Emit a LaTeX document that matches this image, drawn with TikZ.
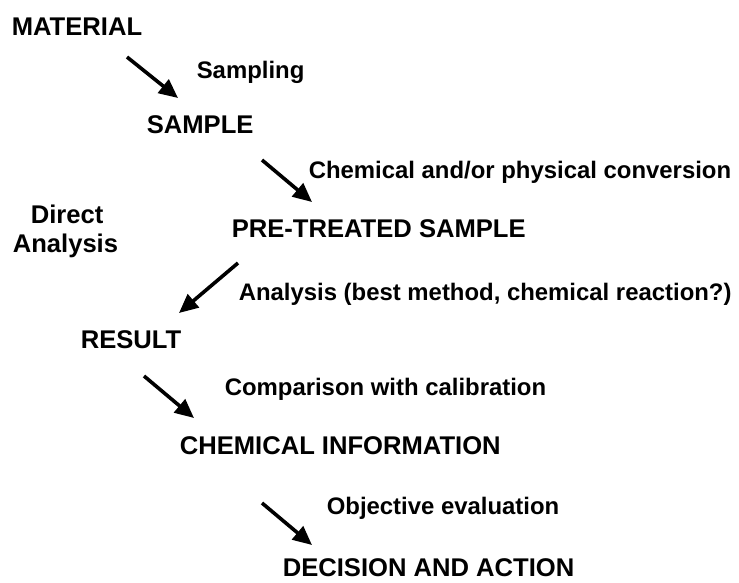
\documentclass[tikz,border=0pt]{standalone}
\usepackage{fontspec}
\setmainfont{Liberation Sans}
\usetikzlibrary{arrows.meta}

\begin{document}
\begin{tikzpicture}[x=1pt, y=-1pt, >={Triangle[length=19pt,width=17pt]}, line width=3.6pt,
  stage/.style={anchor=base west, inner sep=0pt, font=\fontsize{25.6}{30}\selectfont\bfseries},
  lbl/.style={anchor=base west, inner sep=0pt, font=\fontsize{23.9}{28}\selectfont\bfseries}
]
\useasboundingbox (0,0) rectangle (739,582);

% Stages
\node[stage] (material) at (10,35) {MATERIAL};
\node[stage] (sample) at (145,133) {SAMPLE};
\node[stage] (pretreated) at (230,237) {PRE-TREATED SAMPLE};
\node[stage] (result) at (79,348) {RESULT};
\node[stage] (chemInfo) at (178,454) {CHEMICAL INFORMATION};
\node[stage] (decision) at (281,576) {DECISION AND ACTION};

% Side note
\node[stage] (direct) at (29,223) {Direct};
\node[stage] (directB) at (11,252) {Analysis};

% Step labels
\node[lbl] (sampling) at (195,78) {Sampling};
\node[lbl] (conversion) at (307,178) {Chemical and/or physical conversion};
\node[lbl] (analysis) at (237,300) {Analysis (best method, chemical reaction?)};
\node[lbl] (comparison) at (223,395) {Comparison with calibration};
\node[lbl] (evaluation) at (325,514) {Objective evaluation};

% Arrow ends
\coordinate (a1) at (127,57);  \coordinate (b1) at (178,98);
\coordinate (a2) at (262,160); \coordinate (b2) at (312,202);
\coordinate (a3) at (238,263); \coordinate (b3) at (179,313);
\coordinate (a4) at (144,376); \coordinate (b4) at (194,418);
\coordinate (a5) at (262,503); \coordinate (b5) at (312,545);

% Arrows
\draw[->] (a1) -- (b1);
\draw[->] (a2) -- (b2);
\draw[->] (a3) -- (b3);
\draw[->] (a4) -- (b4);
\draw[->] (a5) -- (b5);

\end{tikzpicture}
\end{document}
